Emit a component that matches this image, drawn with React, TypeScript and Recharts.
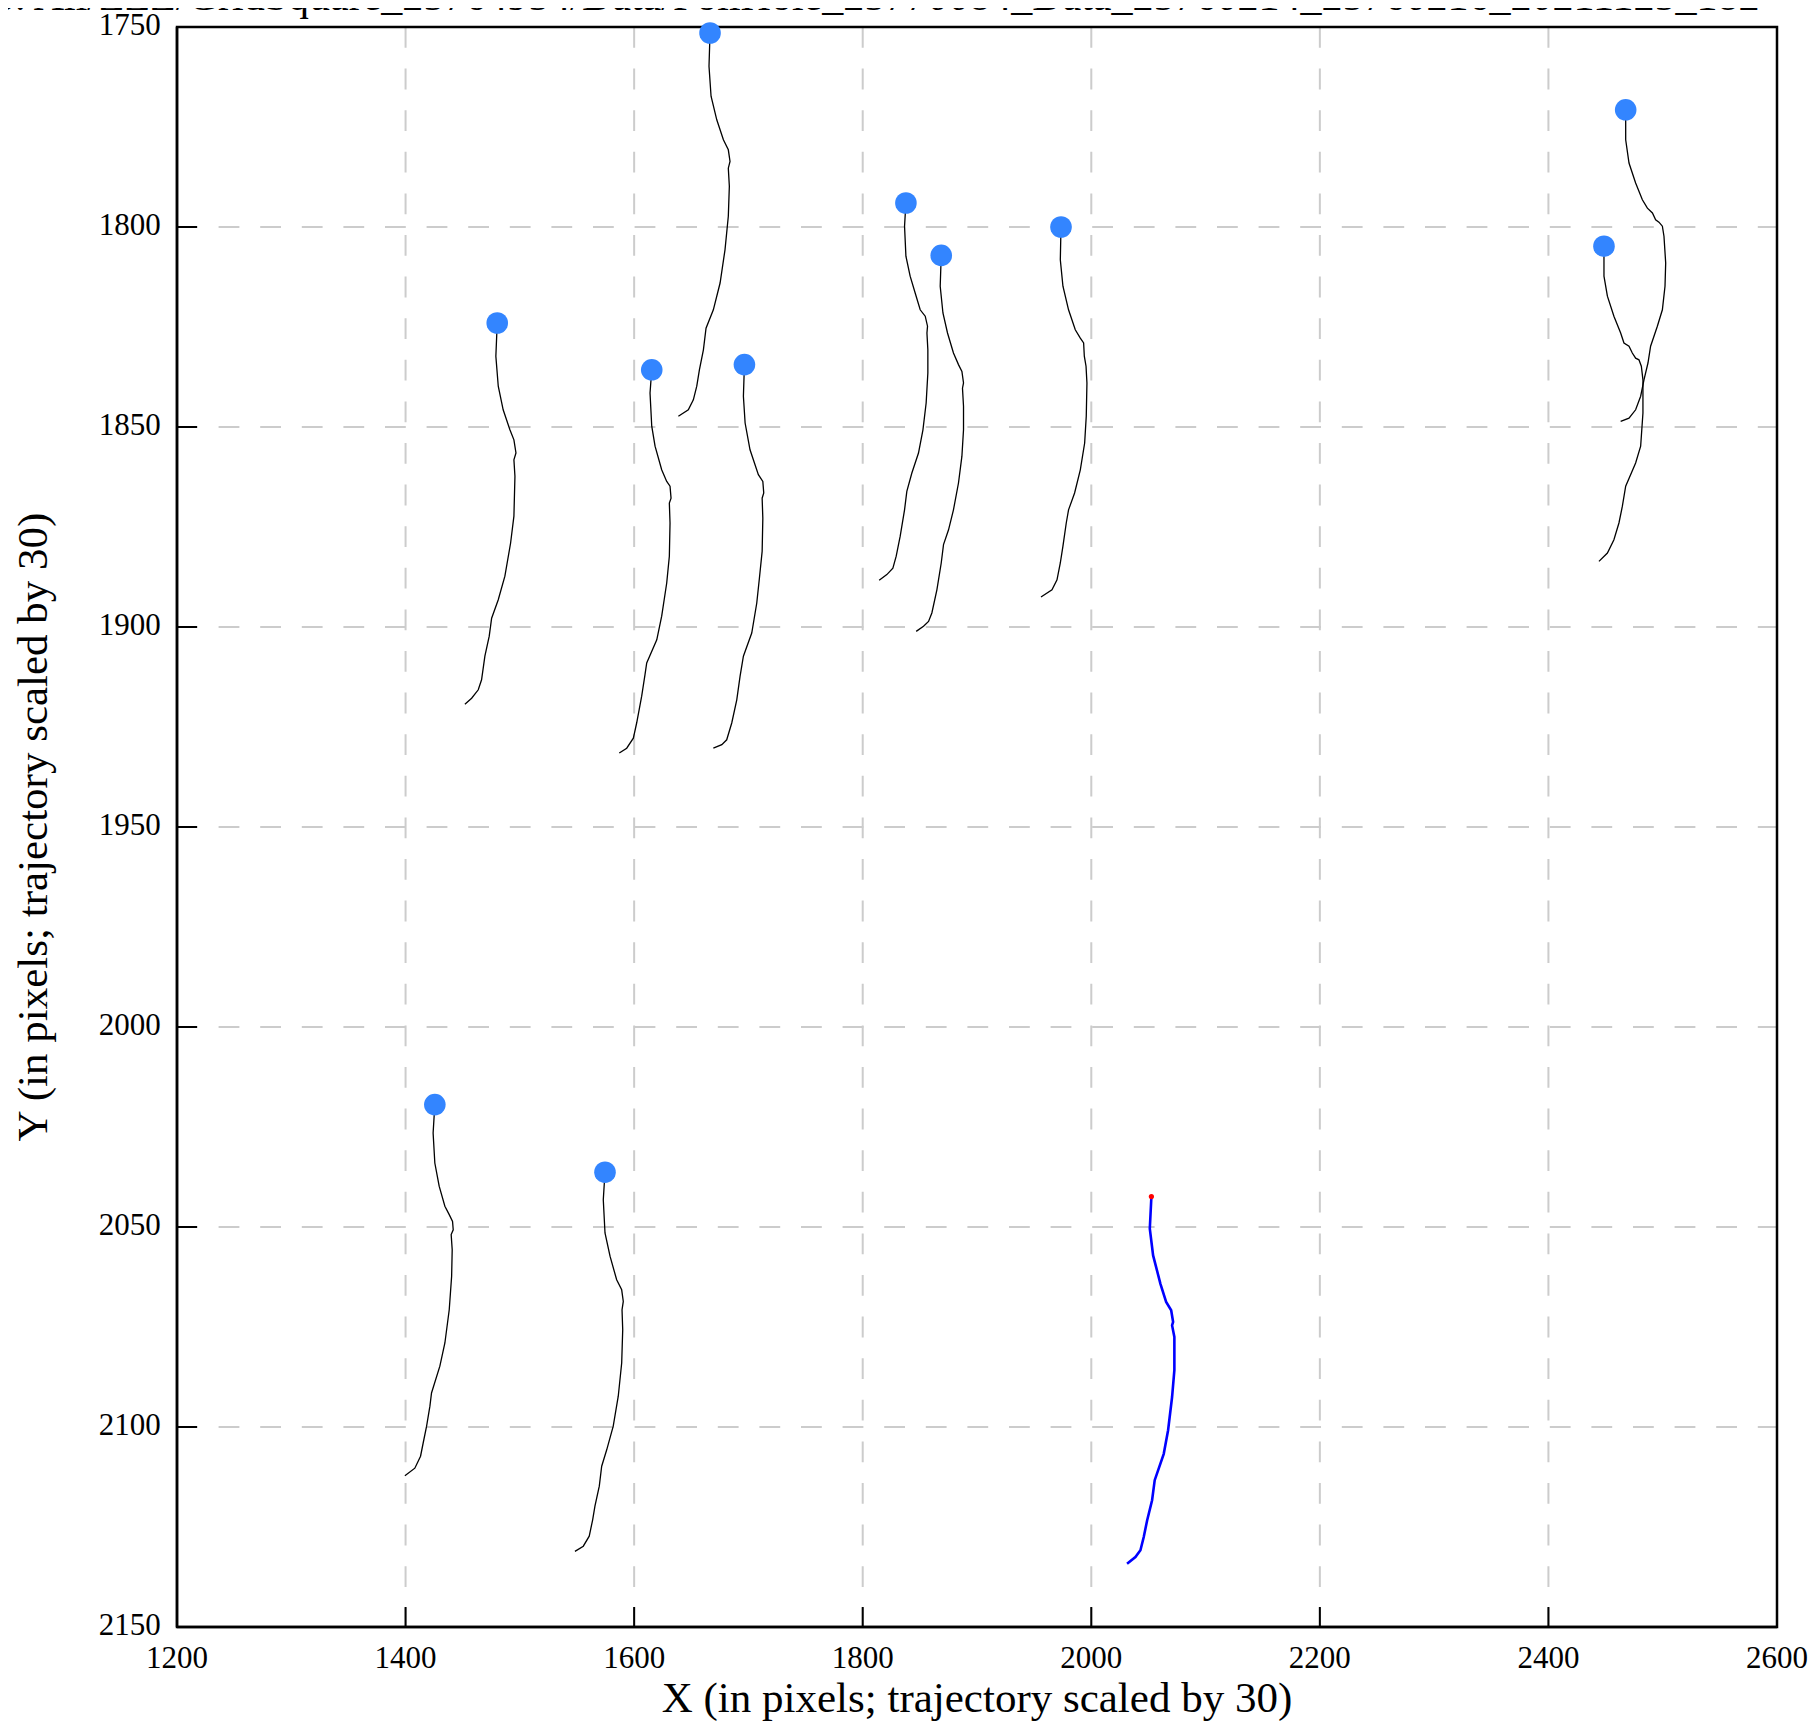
import React from 'react';
import { ComposedChart, Line, Scatter, XAxis, YAxis, CartesianGrid, ReferenceArea } from 'recharts';

const xTicks = [1200, 1400, 1600, 1800, 2000, 2200, 2400, 2600];
const yTicks = [1750, 1800, 1850, 1900, 1950, 2000, 2050, 2100, 2150];

const titleText = 'o. All/ZZZ/GridSquare_25764954/Data/FoilHole_25770084_Data_25760214_25760216_20211125_182';
const xLabel = 'X (in pixels; trajectory scaled by 30)';
const yLabel = 'Y (in pixels; trajectory scaled by 30)';

type P = [number, number];

const track1: P[] = [[1480.2,1824],[1479.0,1832.3],[1481.1,1839.8],[1485.4,1845.7],[1491.3,1850.7],[1494.8,1853.2],[1496.6,1856.5],[1494.8,1858.2],[1495.7,1862.3],[1494.8,1872.3],[1491.9,1879],[1486.9,1887.3],[1481.1,1893.2],[1475.3,1897.8],[1473.2,1902.3],[1469.4,1907.3],[1466.5,1913.2],[1463.6,1915.7],[1457.8,1917.8],[1451.9,1919.3]];
const track2: P[] = [[1615.4,1835.7],[1613.9,1841.5],[1615.4,1849.8],[1618.3,1854.8],[1624.1,1860.7],[1628.5,1863.6],[1631.4,1864.8],[1632.3,1867.8],[1630.8,1869],[1631.4,1874],[1630.8,1882.3],[1628.5,1889],[1624.1,1897.3],[1619.8,1903.2],[1611.0,1909],[1609.5,1911.9],[1606.6,1917.3],[1602.2,1924],[1599.3,1927.8],[1593.5,1930.3],[1587.0,1931.5]];
const track3: P[] = [[1666.4,1751.5],[1665.5,1759.8],[1667.3,1767.3],[1672.3,1773.2],[1678.1,1778.2],[1682.4,1780.7],[1683.9,1783.6],[1682.4,1785.3],[1683.3,1789.8],[1682.4,1797.3],[1679.5,1805.7],[1675.2,1814],[1669.3,1820.7],[1662.9,1825.3],[1660.6,1830.7],[1657.1,1835.7],[1654.8,1839.8],[1651.8,1843.2],[1647.4,1845.7],[1638.7,1847.3]];
const track4: P[] = [[1696.5,1834.4],[1695.6,1842.3],[1697.1,1849],[1701.4,1855.7],[1708.7,1861.9],[1712.6,1863.6],[1713.4,1866.5],[1712.0,1867.8],[1712.6,1872.8],[1712.0,1881.1],[1709.6,1887.8],[1707.3,1894],[1702.9,1901.5],[1695.6,1907.3],[1692.7,1912.3],[1689.8,1918.2],[1685.4,1924],[1681.0,1928.2],[1676.7,1929.4],[1669.3,1930.3]];
const track5: P[] = [[1837.8,1794],[1836.6,1799.8],[1837.8,1807.3],[1841.5,1812.3],[1845.9,1816.5],[1850.3,1820.7],[1854.7,1822.3],[1856.7,1824.8],[1856.2,1826.5],[1857.0,1830.7],[1857.0,1836.5],[1855.5,1844],[1852.7,1850.7],[1848.8,1856.5],[1843.0,1861.5],[1838.6,1866.1],[1836.6,1870.7],[1832.8,1877.3],[1829.3,1882.3],[1826.4,1885.3],[1821.1,1886.9],[1814.4,1888.3]];
const track6: P[] = [[1868.7,1807.1],[1867.8,1814.8],[1870.2,1821.5],[1874.2,1826.5],[1879.4,1831.5],[1883.8,1834.4],[1886.8,1836.1],[1888.2,1839],[1887.3,1840.3],[1888.2,1844.8],[1888.2,1850.7],[1886.8,1857.3],[1883.8,1864],[1879.4,1870.7],[1875.1,1875.7],[1870.7,1879.4],[1868.7,1884],[1864.9,1890.7],[1860.5,1896.5],[1857.6,1898.6],[1853.2,1899.8],[1846.8,1901.1]];
const track7: P[] = [[1973.5,1800],[1972.9,1808.2],[1975.2,1814.8],[1980.1,1820.7],[1986.0,1825.7],[1990.4,1827.8],[1993.3,1829],[1993.9,1832.3],[1995.4,1834.8],[1996.2,1839],[1995.6,1847.3],[1994.2,1854],[1990.4,1860.7],[1985.4,1866.5],[1980.1,1870.7],[1978.1,1874],[1975.2,1879.8],[1972.9,1884],[1970.0,1888.2],[1965.6,1890.7],[1956.0,1892.5]];
const track8: P[] = [[2467.6,1770.7],[2467.6,1778.2],[2470.5,1784],[2476.3,1789],[2482.2,1793.2],[2486.6,1795.3],[2491.0,1796.5],[2493.8,1798.2],[2496.7,1798.8],[2499.7,1799.8],[2501.1,1802.3],[2502.6,1809],[2502.0,1814.8],[2499.7,1820.7],[2495.3,1824.8],[2489.4,1829.8],[2487.1,1834],[2483.6,1838.2],[2480.7,1842.3],[2476.3,1845.7],[2470.5,1847.8],[2463.2,1848.6]];
const track9: P[] = [[2448.6,1804.8],[2448.6,1812.3],[2451.6,1817.3],[2457.3,1822.3],[2463.2,1826.5],[2466.1,1829],[2470.5,1829.8],[2473.4,1831.5],[2476.3,1832.8],[2479.2,1833.2],[2481.3,1834.8],[2482.7,1838.2],[2482.7,1846.5],[2480.7,1854.8],[2476.3,1859],[2467.6,1864.8],[2464.7,1869.8],[2461.7,1874],[2457.3,1878.2],[2451.6,1881.5],[2444.2,1883.6]];
const track10: P[] = [[1425.6,2019.4],[1424.1,2026.5],[1425.6,2034],[1429.4,2039.8],[1434.4,2044.8],[1438.2,2046.9],[1441.1,2048.6],[1441.7,2050.7],[1439.9,2051.9],[1440.8,2055.7],[1440.3,2062.3],[1438.2,2070.7],[1434.4,2079],[1430.0,2084.8],[1422.7,2091.5],[1421.3,2094.8],[1418.4,2099.8],[1415.4,2104],[1413.1,2107.3],[1408.1,2110.3],[1399.4,2112.2]];
const track11: P[] = [[1574.5,2036.3],[1573.0,2043.2],[1574.5,2051.5],[1578.9,2057.3],[1584.7,2063.2],[1589.1,2065.7],[1590.5,2068.6],[1589.4,2070.7],[1590.0,2075.7],[1589.1,2084],[1586.1,2092.3],[1581.7,2099.8],[1576.0,2105.7],[1571.6,2109.8],[1569.5,2114.8],[1565.7,2119.8],[1563.7,2123.2],[1560.7,2127.3],[1555.5,2129.8],[1548.2,2131.1]];
const currentTrack: P[] = [[2052.6,2042.4],[2051.2,2050.4],[2054.1,2057.1],[2060.5,2064.2],[2065.5,2068.75],[2069.9,2070.8],[2071.6,2073.75],[2070.7,2074.6],[2072.7,2077.5],[2072.7,2085.8],[2070.7,2092.5],[2067.2,2100.8],[2063.4,2106.7],[2055.5,2113.3],[2053.2,2118.3],[2048.9,2123.3],[2045.9,2127.5],[2043.0,2130.8],[2038.6,2132.5],[2031.3,2134.2]];

const neighbourMarkers: P[] = [[1480.2,1824],[1615.4,1835.7],[1666.4,1751.5],[1696.5,1834.4],[1837.8,1794],[1868.7,1807.1],[1973.5,1800],[2467.6,1770.7],[2448.6,1804.8],[1425.6,2019.4],[1574.5,2036.3]];
const currentMarker: P[] = [[2052.6,2042.4]];

const neighbourTracks: P[][] = [track1, track2, track3, track4, track5, track6, track7, track8, track9, track10, track11];

const rows = (pts: P[]) => pts.map(([x, y]) => ({ x, y }));

const FONT = "'Liberation Serif', 'Times New Roman', 'DejaVu Serif', serif";

const YTick = (props: any) => (
  <text x={props.x} y={props.y + 7.7} textAnchor="end" fontSize={31} fontFamily={FONT} fill="#000">
    {props.payload.value}
  </text>
);

const XTick = (props: any) => (
  <text x={props.x} y={props.y + 41} textAnchor="middle" fontSize={31} fontFamily={FONT} fill="#000">
    {props.payload.value}
  </text>
);

const XLab = () => (
  <text x={969} y={1704} textAnchor="middle" fontSize={43} fontFamily={FONT} fill="#000">{xLabel}</text>
);
const YLab = () => (
  <text transform="translate(39, 819) rotate(-90)" textAnchor="middle" fontSize={43} fontFamily={FONT} fill="#000">{yLabel}</text>
);

const BlueDot = (p: any) => <circle cx={p.cx} cy={p.cy} r={10.8} fill="#3385ff" />;
const RedDot = (p: any) => <circle cx={p.cx} cy={p.cy} r={2.6} fill="#ff0000" />;

export default function App() {
  return (
    <div style={{ position: 'relative', width: 1800, height: 1720 }}>
      <svg style={{ position: 'absolute', left: -8, top: -8, pointerEvents: 'none' }} width={1817} height={40}>
        <text x={-6} y={10} fontSize={42} fontFamily={FONT} fill="#000">{titleText}</text>
      </svg>
      <ComposedChart width={1800} height={1720} margin={{ top: 19, right: 31, bottom: 0, left: 0 }}>
        <CartesianGrid stroke="#cccccc" strokeWidth={2} strokeDasharray="20.8 20.8" horizontalValues={yTicks} verticalValues={xTicks} />
        <XAxis
          dataKey="x"
          type="number"
          domain={[1200, 2600]}
          ticks={xTicks}
          interval={0}
          height={101}
          tickSize={-20}
          tickMargin={20}
          tick={<XTick />}
          tickLine={{ stroke: '#000', strokeWidth: 2 }}
          axisLine={{ stroke: '#000', strokeWidth: 2.5 }}
          label={<XLab />}
        />
        <YAxis
          dataKey="y"
          type="number"
          domain={[1750, 2150]}
          reversed
          ticks={yTicks}
          interval={0}
          width={169}
          tickSize={-20}
          tickMargin={36.3}
          tick={<YTick />}
          tickLine={{ stroke: '#000', strokeWidth: 2 }}
          axisLine={{ stroke: '#000', strokeWidth: 2.5 }}
          label={<YLab />}
        />
        <ReferenceArea x1={1200} x2={2600} y1={1750} y2={2150} fill="none" fillOpacity={0} stroke="#000" strokeWidth={2.5} />
        <Scatter data={rows(neighbourMarkers)} dataKey="y" shape={<BlueDot />} isAnimationActive={false} />
        {neighbourTracks.map((t, i) => (
          <Line
            key={i}
            data={rows(t)}
            dataKey="y"
            type="linear"
            stroke="#000"
            strokeWidth={1.3}
            dot={false}
            activeDot={false}
            isAnimationActive={false}
          />
        ))}
        <Line data={rows(currentTrack)} dataKey="y" type="linear" stroke="#0000ff" strokeWidth={2.6} dot={false} activeDot={false} isAnimationActive={false} />
        <Scatter data={rows(currentMarker)} dataKey="y" shape={<RedDot />} isAnimationActive={false} />
      </ComposedChart>
    </div>
  );
}
